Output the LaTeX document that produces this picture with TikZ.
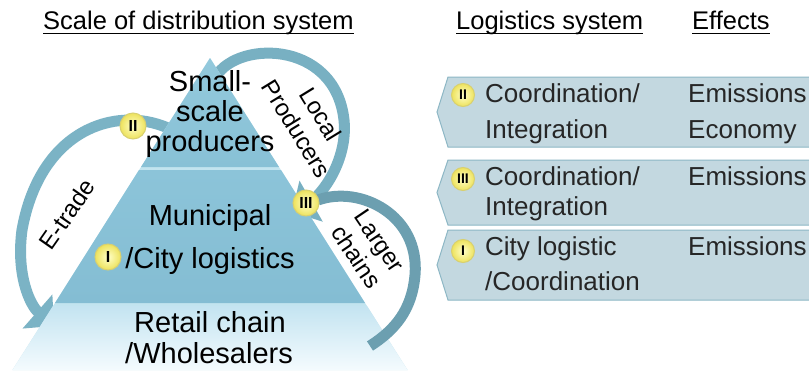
\documentclass[tikz,border=0pt]{standalone}
\usepackage{fontspec}
\setmainfont{Liberation Sans}
\usetikzlibrary{arrows.meta}
\definecolor{etradec}{HTML}{7BB3C5}
\definecolor{localc}{HTML}{78B0C2}
\definecolor{largerc}{HTML}{6C9FB0}
\definecolor{topl}{HTML}{93C9DC}
\definecolor{topd}{HTML}{88C1D6}
\definecolor{midl}{HTML}{8CC4D9}
\definecolor{midd}{HTML}{84BDD3}
\definecolor{botl}{HTML}{C4E4F1}
\definecolor{botd}{HTML}{F4FBFE}
\definecolor{gapc}{HTML}{C2E4EF}
\definecolor{banfill}{HTML}{C3D8E0}
\definecolor{banedge}{HTML}{8DB7C5}
\definecolor{bantxt}{HTML}{262626}
\definecolor{badgein}{HTML}{FFFFC8}
\definecolor{badgeout}{HTML}{EDE25C}
\definecolor{badgeedge}{HTML}{D8D070}
\tikzset{
  band/.style={line width=11pt},
  badgeL/.style={circle, minimum size=26pt, inner sep=0pt, draw=badgeedge, line width=1pt,
    inner color=badgein, outer color=badgeout, font=\fontsize{16}{16}\selectfont\bfseries},
  badgeS/.style={badgeL, minimum size=23pt, font=\fontsize{14}{14}\selectfont\bfseries},
  bannerbox/.style={fill=banfill, draw=banedge, line width=1pt},
  bantext/.style={anchor=base west, inner sep=0pt, text=bantxt, font=\fontsize{26}{26}\selectfont},
  hdr/.style={anchor=base west, inner sep=0pt, font=\fontsize{25.5}{26}\selectfont},
  pyrtext/.style={anchor=base, inner sep=0pt, font=\fontsize{29}{29}\selectfont},
  arlabel/.style={align=center, inner sep=0pt, font=\fontsize{24}{28}\selectfont}
}
\begin{document}
\begin{tikzpicture}[x=1pt,y=-1pt]
\useasboundingbox (0,0) rectangle (809,372);
\fill[white] (0,0) rectangle (809,372);

% headers
\node[hdr] (h1) at (43,30) {Scale of distribution system};
\node[hdr] (h2) at (456,30) {Logistics system};
\node[hdr] (h3) at (692,30) {Effects};
\foreach \h in {h1,h2,h3}
  \draw[line width=1.2pt] ([yshift=-3.5pt]\h.base west) -- ([yshift=-3.5pt]\h.base east);

% arrows behind the pyramid
\draw[band, draw=etradec, -{Triangle[width=44pt,length=22pt]}]
  (168,128) .. controls (115,105) and (40,130) .. (22,230)
  .. controls (16,275) and (30,305) .. (54,326);
\draw[band, draw=localc, -{Triangle[width=46pt,length=22pt]}]
  (214,80) .. controls (232,40) and (335,38) .. (344,120)
  .. controls (348,160) and (322,195) .. (292,212);

% pyramid
\fill[gapc] (210,58) -- (407.5,370) -- (12.5,370) -- cycle;
\shade[top color=topl, bottom color=topd] (210,58) -- (279,167) -- (141,167) -- cycle;
\shade[top color=midl, bottom color=midd] (139,170) -- (281,170) -- (365,303) -- (55,303) -- cycle;
\shade[top color=botl, bottom color=botd] (53,306) -- (367,306) -- (407.5,370) -- (12.5,370) -- cycle;

% arrow in front of the base layer
\draw[band, draw=largerc]
  (318,200) .. controls (360,185) and (420,215) .. (415,275)
  .. controls (412,310) and (395,330) .. (370,346);

% pyramid texts
\node[pyrtext] (t1) at (210,91) {Small-};
\node[pyrtext] (t2) at (210,121) {scale};
\node[pyrtext] (t3) at (210,151) {producers};
\node[pyrtext] (t4) at (210,225) {Municipal};
\node[pyrtext] (t5) at (210,268) {/City logistics};
\node[pyrtext] (t6) at (210,332) {Retail chain};
\node[pyrtext] (t7) at (209,363) {/Wholesalers};

% arrow labels
\node[arlabel, rotate=-58.5] (lp) at (308.5,121.5) {Local\\Producers};
\node[arlabel, rotate=-56] (lc) at (368,249) {Larger\\chains};
\node[arlabel, rotate=55] (et) at (67,214) {E-trade};

% badges on pyramid
\node[badgeL] (p2) at (133,126) {II};
\node[badgeL] (p3) at (306,203) {III};
\node[badgeL] (p1) at (108,257) {I};

% banners
\filldraw[bannerbox] (448,77) -- (815,77) -- (815,147) -- (448,147) -- (437,112) -- cycle;
\filldraw[bannerbox] (448,160) -- (815,160) -- (815,225) -- (448,225) -- (437,192.5) -- cycle;
\filldraw[bannerbox] (448,230) -- (815,230) -- (815,300) -- (448,300) -- (437,265) -- cycle;

\node[badgeS] (s2) at (463,95) {II};
\node[badgeS] (s3) at (463,179) {III};
\node[badgeS] (s1) at (463,251) {I};

\node[bantext] (a1) at (485,102) {Coordination/};
\node[bantext] (a2) at (485,138) {Integration};
\node[bantext] (e1) at (688,102) {Emissions};
\node[bantext] (e2) at (688,138) {Economy};
\node[bantext] (b1) at (485,185) {Coordination/};
\node[bantext] (b2) at (485,215) {Integration};
\node[bantext] (e3) at (688,185) {Emissions};
\node[bantext] (c1) at (485,255) {City logistic};
\node[bantext] (c2) at (485,290) {/Coordination};
\node[bantext] (e4) at (688,255) {Emissions};
\end{tikzpicture}
\end{document}
